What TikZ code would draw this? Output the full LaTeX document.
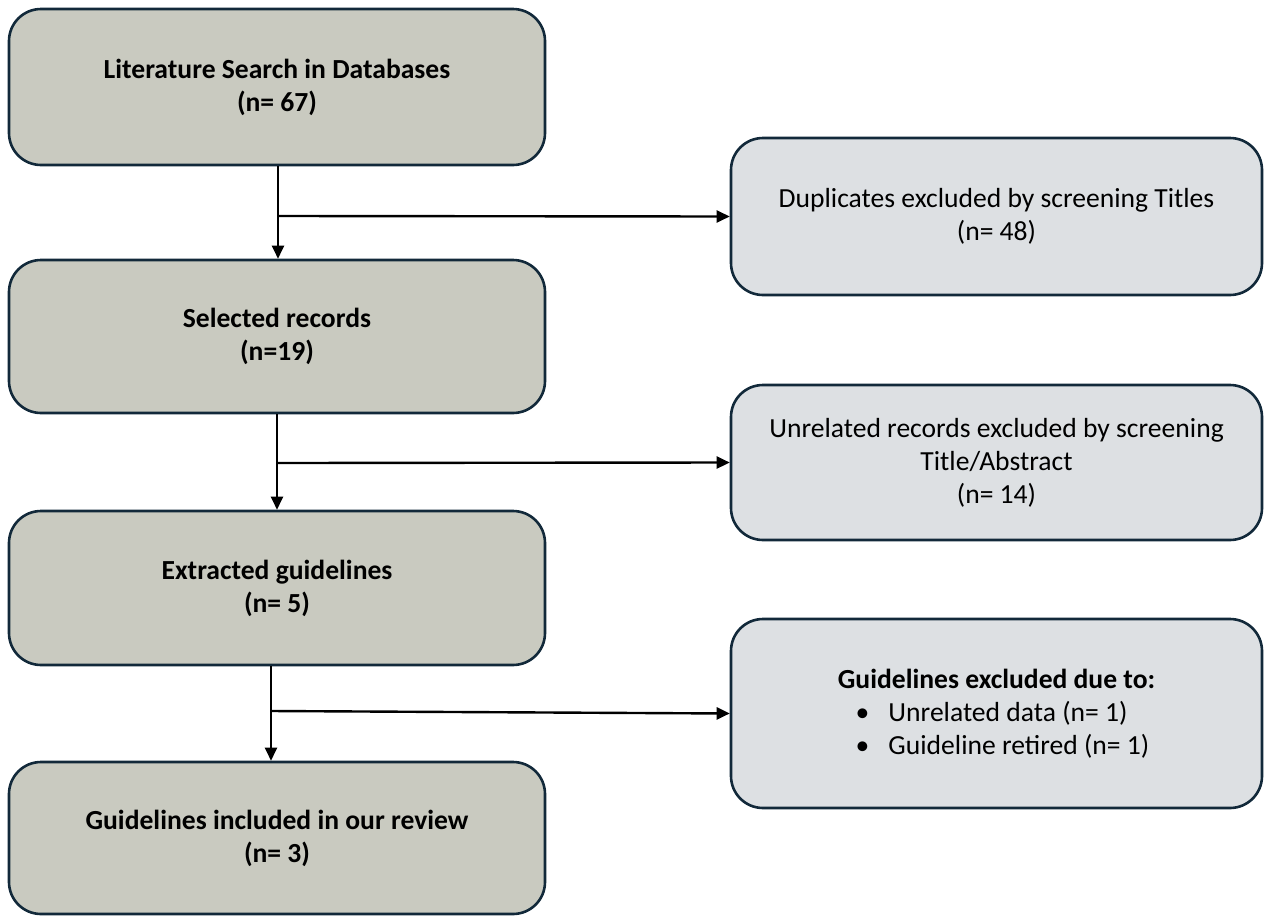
\documentclass[tikz,border=0pt]{standalone}
\usepackage{fontspec}
\setmainfont{Carlito}
\usetikzlibrary{arrows.meta}
\definecolor{lfill}{HTML}{C9CAC0}
\definecolor{rfill}{HTML}{DDE0E3}
\definecolor{bord}{HTML}{12293A}
\newcommand{\bul}[1]{\makebox[300pt][l]{\makebox[35pt][l]{\hspace*{2pt}•}#1}}
\tikzset{
  base/.style={draw=bord, line width=2.6pt, rounded corners=32pt, align=center, inner sep=0pt,
    font=\fontsize{27.6}{33}\selectfont},
  lbox/.style={base, fill=lfill, minimum width=536pt, font=\bfseries\fontsize{27.6}{33}\selectfont},
  rbox/.style={base, fill=rfill, minimum width=531pt},
  arr/.style={line width=2.4pt, -{Triangle[length=13pt,width=12pt]}}
}
\begin{document}
\begin{tikzpicture}[x=1pt,y=-1pt]
\useasboundingbox (0,0) rectangle (1264,916);
\node[lbox, minimum height=156pt] (b1) at (277,87) {Literature Search in Databases\\(n= 67)};
\node[lbox, minimum height=153pt] (b2) at (277,336.5) {Selected records\\(n=19)};
\node[lbox, minimum height=154pt] (b3) at (277,588) {Extracted guidelines\\(n= 5)};
\node[lbox, minimum height=152pt] (b4) at (277,838) {Guidelines included in our review\\(n= 3)};
\node[rbox, minimum height=157pt] (r1) at (996.5,216.5) {Duplicates excluded by screening Titles\\(n= 48)};
\node[rbox, minimum height=155pt] (r2) at (996.5,462.5) {Unrelated records excluded by screening\\Title/Abstract\\(n= 14)};
\node[rbox, minimum height=189pt] (r3) at (996.5,713.5)
  {\textbf{Guidelines excluded due to:}\\\hspace*{14pt}\bul{Unrelated data (n= 1)}\\\hspace*{14pt}\bul{Guideline retired (n= 1)}};
\coordinate (j1) at (278,216);
\coordinate (j2) at (277,463);
\coordinate (j3) at (271,711);
\draw[arr] (b1.south -| j1) -- (b2.north -| j1);
\draw[arr] (j1) -- (r1.west);
\draw[arr] (b2.south -| j2) -- (b3.north -| j2);
\draw[arr] (j2) -- (r2.west);
\draw[arr] (b3.south -| j3) -- (b4.north -| j3);
\draw[arr] (j3) -- (r3.west);
\end{tikzpicture}
\end{document}
